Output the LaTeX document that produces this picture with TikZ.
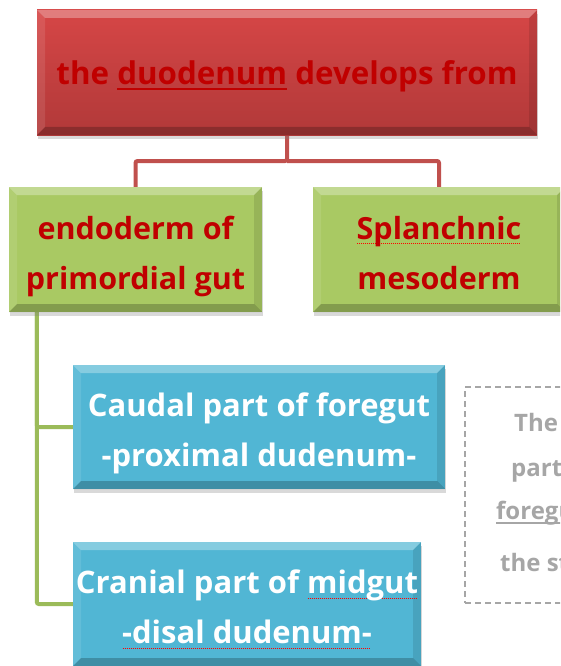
\documentclass[tikz,border=0pt]{standalone}
\usepackage{fontspec}
\setmainfont{Open Sans}
\usepackage{tikz}
\usetikzlibrary{positioning,shadows,backgrounds}

\definecolor{boxred}{HTML}{D64646}
\definecolor{boxreddark}{HTML}{B13939}
\definecolor{txtred}{HTML}{C00000}
\definecolor{boxgreen}{HTML}{A9C963}
\definecolor{boxblue}{HTML}{51B6D4}
\definecolor{linered}{HTML}{C0504D}
\definecolor{linegreen}{HTML}{9BBB59}
\definecolor{notegray}{HTML}{A6A6A6}

% Unterstreichungen
\newcommand{\solidunder}[1]{\setbox0=\hbox{#1}\rlap{\rule[-5pt]{\wd0}{1.6pt}}\box0\relax}
\newcommand{\spellmark}[1]{\setbox0=\hbox{#1}\rlap{\textcolor{red}{\hbox to \wd0{\leaders\hbox to 2pt{\hss\rule[-5pt]{1pt}{0.7pt}\hss}\hfill}}}\box0\relax}

\tikzset{
  bevel/.style={path picture={
    \fill[white,opacity=.3] (path picture bounding box.north west) -- (path picture bounding box.north east)
      -- ([shift={(-8pt,-8pt)}]path picture bounding box.north east) -- ([shift={(8pt,-8pt)}]path picture bounding box.north west) -- cycle;
    \fill[white,opacity=.1] (path picture bounding box.north west) -- ([shift={(8pt,-8pt)}]path picture bounding box.north west)
      -- ([shift={(8pt,8pt)}]path picture bounding box.south west) -- (path picture bounding box.south west) -- cycle;
    \fill[black,opacity=.1] (path picture bounding box.north east) -- ([shift={(-8pt,-8pt)}]path picture bounding box.north east)
      -- ([shift={(-8pt,8pt)}]path picture bounding box.south east) -- (path picture bounding box.south east) -- cycle;
    \fill[black,opacity=.22] (path picture bounding box.south west) -- ([shift={(8pt,8pt)}]path picture bounding box.south west)
      -- ([shift={(-8pt,8pt)}]path picture bounding box.south east) -- (path picture bounding box.south east) -- cycle;
  }},
  mainbox/.style={bevel, top color=boxred, bottom color=boxreddark, text=txtred,
    minimum width=500pt, minimum height=125pt, inner sep=0pt, text height=32pt, text depth=7pt,
    drop shadow={opacity=.3, shadow xshift=1pt, shadow yshift=-4pt},
    font=\fontsize{31.3}{50}\selectfont\bfseries},
  srcbox/.style={bevel, fill=boxgreen, text=txtred, minimum height=125pt, inner sep=0pt,
    text height=86pt, text depth=7pt,
    drop shadow={opacity=.3, shadow xshift=1pt, shadow yshift=-4pt},
    align=center, font=\fontsize{30.5}{50}\selectfont\bfseries},
  partbox/.style={bevel, fill=boxblue, text=white, minimum height=124pt, inner sep=0pt,
    text height=86pt, text depth=7pt,
    drop shadow={opacity=.3, shadow xshift=1pt, shadow yshift=-4pt},
    align=center, font=\fontsize{31}{50}\selectfont\bfseries},
  noteline/.style={anchor=base west, inner sep=0pt, text=notegray,
    font=\fontsize{24}{24}\selectfont\bfseries},
  redline/.style={draw=linered, line width=4pt, rounded corners=2pt},
  greenline/.style={draw=linegreen, line width=4pt, rounded corners=2pt},
}

\begin{document}
\begin{tikzpicture}[x=1pt, y=-1pt]
    \useasboundingbox (0,0) rectangle (560,666);
    \clip (0,0) rectangle (560,666);

    % Kaesten
    \node[mainbox] (top) at (287,72.5) {the \solidunder{duodenum} develops from};
    \node[srcbox, minimum width=253pt] (endo) at (135.5,249.5) {endoderm of\\primordial gut};
    \node[srcbox, minimum width=252pt] (meso) at (439,249.5) {\spellmark{Splanchnic}\\mesoderm};
    \node[partbox, minimum width=372pt] (fore) at (259,427) {Caudal part of foregut\\-proximal dudenum-};
    \node[partbox, minimum width=348pt] (mid) at (247,604) {Cranial part of \spellmark{midgut}\\\spellmark{-disal dudenum-}};

    % Hinweis rechts
    \node[draw=notegray, dash pattern=on 6pt off 4pt, line width=1.3pt,
          minimum width=200pt, minimum height=216pt] (note) at (565,495) {};
    \node[noteline] (n1) at (514,431) {The caudal};
    \node[noteline] (n2) at (511,476) {part of};
    \node[noteline] (n3) at (496,519) {\solidunder{foregut}};
    \node[noteline] (n4) at (500,571) {the stomach};

    % Verbindungen
    \begin{scope}[on background layer]
        \coordinate (split) at (287,161);
        \draw[redline] (top.south) -- (split) -| (endo.north);
        \draw[redline] (split) -| (meso.north);
        \draw[greenline] ([xshift=28pt]endo.south west) |- (fore.west);
        \draw[greenline] ([xshift=28pt]endo.south west) |- (mid.west);
    \end{scope}
\end{tikzpicture}
\end{document}
